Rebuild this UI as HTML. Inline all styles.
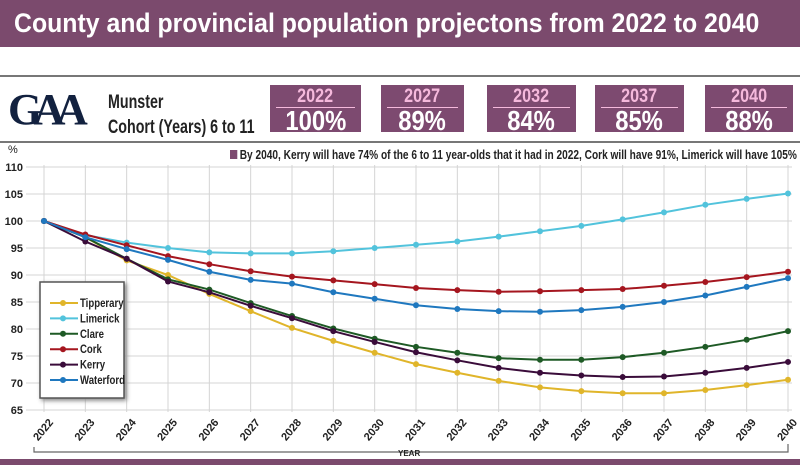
<!DOCTYPE html>
<html><head><meta charset="utf-8">
<style>
body{margin:0;width:800px;height:465px;overflow:hidden;background:#fff;font-family:"Liberation Sans",sans-serif;position:relative}
.title{position:absolute;left:0;top:0;width:800px;height:47px;background:#7b4a6d;color:#fff;font-weight:bold;font-size:27px;line-height:47px;white-space:nowrap}
.title span{display:inline-block;margin-left:14px;transform-origin:left center;transform:scaleX(.92)}
.rule{position:absolute;left:0;width:800px;height:2px;background:#777}
.box{position:absolute;top:85px;height:47px;background:#7d4a70;color:#fff;text-align:center;font-weight:bold}
.box .yr{color:#f5b9dc;font-size:19px;line-height:20px;margin:2px 6px 0;border-bottom:1px solid #f5b9dc}
.box .yr span,.box .pc span{display:inline-block;transform:scaleX(.85)}
.box .pc{font-size:28px;line-height:25px}
.cond{transform-origin:left center;display:inline-block;transform:scaleX(.8);white-space:nowrap}
</style></head><body>
<div class="title"><span>County and provincial population projectons from 2022 to 2040</span></div>
<div class="rule" style="top:75px"></div>
<div style="position:absolute;left:8px;top:84px;font-family:'Liberation Serif',serif;font-size:44px;color:#12213f;letter-spacing:-9px;font-weight:bold">GAA</div>
<div style="position:absolute;left:108px;top:90px;font-size:19px;font-weight:bold;color:#222;line-height:25px"><span class="cond" style="transform:scaleX(.75)">Munster</span><br><span class="cond" style="transform:scaleX(.75)">Cohort (Years) 6 to 11</span></div>
<div class="box" style="left:270px;width:91px"><div class="yr"><span>2022</span></div><div class="pc"><span>100%</span></div></div>
<div class="box" style="left:381px;width:83px"><div class="yr"><span>2027</span></div><div class="pc"><span>89%</span></div></div>
<div class="box" style="left:487px;width:89px"><div class="yr"><span>2032</span></div><div class="pc"><span>84%</span></div></div>
<div class="box" style="left:595px;width:89px"><div class="yr"><span>2037</span></div><div class="pc"><span>85%</span></div></div>
<div class="box" style="left:705px;width:88px"><div class="yr"><span>2040</span></div><div class="pc"><span>88%</span></div></div>
<div class="rule" style="top:141px"></div>
<div style="position:absolute;left:230px;top:148px;font-size:12.5px;font-weight:bold;color:#222"><span class="cond" style="transform:scaleX(.81)"><span style="display:inline-block;width:9px;height:9px;background:#7d4a70;margin-right:3px"></span>By 2040, Kerry will have 74% of the 6 to 11 year-olds that it had in 2022, Cork will have 91%, Limerick will have 105%</span></div>
<div style="position:absolute;left:8px;top:144px;font-size:11px;color:#222">%</div>
<svg id="chart" width="800" height="465" style="position:absolute;left:0;top:0"></svg>
<div style="position:absolute;left:0;top:459px;width:800px;height:6px;background:#7b4a6d"></div>
<script>
const years=[2022,2023,2024,2025,2026,2027,2028,2029,2030,2031,2032,2033,2034,2035,2036,2037,2038,2039,2040];
const yTicks=[65,70,75,80,85,90,95,100,105,110];
const names=["Tipperary","Limerick","Clare","Cork","Kerry","Waterford"];
const colors=["#e0b52a","#52c3dc","#1e5a25","#a5161f","#3a0c3a","#1f78bf"];
const tipperary=[100,97,92.7,90,86.5,83.3,80.2,77.8,75.6,73.5,71.9,70.4,69.2,68.5,68.1,68.1,68.7,69.6,70.6];
const limerick=[100,97.4,96,95,94.2,94,94,94.4,95,95.6,96.2,97.1,98.1,99.1,100.3,101.6,103,104.1,105.1];
const clare=[100,97,93,89.2,87.3,84.8,82.4,80.1,78.2,76.7,75.6,74.6,74.3,74.3,74.8,75.6,76.7,78,79.6];
const cork=[100,97.5,95.5,93.5,92,90.7,89.7,89,88.3,87.6,87.2,86.9,87,87.2,87.4,88,88.7,89.6,90.6];
const kerry=[100,96.2,93,88.8,86.8,84.3,82,79.6,77.6,75.7,74.2,72.8,71.9,71.4,71.1,71.2,71.9,72.8,73.9];
const waterford=[100,97,94.8,92.8,90.6,89.1,88.4,86.8,85.6,84.4,83.7,83.3,83.2,83.5,84.1,85,86.2,87.8,89.4];
const series=[tipperary,limerick,clare,cork,kerry,waterford];
const NS="http://www.w3.org/2000/svg";
const svg=document.getElementById('chart');
const x0=44,x1=788,yTop=167,yBot=410;
function X(i){return x0+(x1-x0)*i/(years.length-1);}
function Y(v){return yBot-(v-65)/(110-65)*(yBot-yTop);}
function mk(t,a){const e=document.createElementNS(NS,t);for(const k in a)e.setAttribute(k,a[k]);svg.appendChild(e);return e;}
yTicks.forEach(v=>{
 const l=mk('line',{x1:26,x2:792,y1:Y(v),y2:Y(v),stroke:'#d4d4d4','stroke-width':1});
 
 
 const t=mk('text',{x:23,y:Y(v)+4,'text-anchor':'end','font-size':11,'font-weight':'bold',fill:'#222'});t.textContent=v;
 
 
});
years.forEach((yr,i)=>{
 const l=mk('line',{x1:X(i),x2:X(i),y1:yTop-2,y2:yBot+2,stroke:'#d4d4d4','stroke-width':1});
 
 
 const t=mk('text',{x:X(i)+2,y:432,'text-anchor':'middle','font-size':11,'font-weight':'bold',fill:'#222',transform:`rotate(-50 ${X(i)+2} 432)`});t.textContent=yr;
 
 
});
const br=mk('path',{d:`M34 447 V452 H788 V444`,stroke:'#666',fill:'none','stroke-width':1.2});


const yl=mk('text',{x:398,y:456,'font-size':8,'font-weight':'bold',fill:'#222'});yl.textContent='YEAR';


series.forEach((d,s)=>{
 const p=mk('polyline',{points:d.map((v,i)=>X(i)+','+Y(v)).join(' '),fill:'none',stroke:colors[s],'stroke-width':2});
 
 
 d.forEach((v,i)=>{const c=mk('circle',{cx:X(i),cy:Y(v),r:3,fill:colors[s]});
 
 });
});
const lb=mk('rect',{x:40,y:282,width:84,height:116,fill:'#fff',stroke:'#555','stroke-width':1.5,style:'filter:drop-shadow(2px 2px 2px #888)'});


names.forEach((n,s)=>{
 const y=303+s*15.4;
 const l=mk('line',{x1:50,x2:78,y1:y,y2:y,stroke:colors[s],'stroke-width':2});
 
 
 const c=mk('circle',{cx:63,cy:y,r:3,fill:colors[s]});
 
 
 const t=mk('text',{x:80,y:y+4,'font-size':12,'font-weight':'bold',fill:'#222',transform:`translate(80 0) scale(0.8 1) translate(-80 0)`});t.textContent=n;
 
 
});
</script>
</body></html>
